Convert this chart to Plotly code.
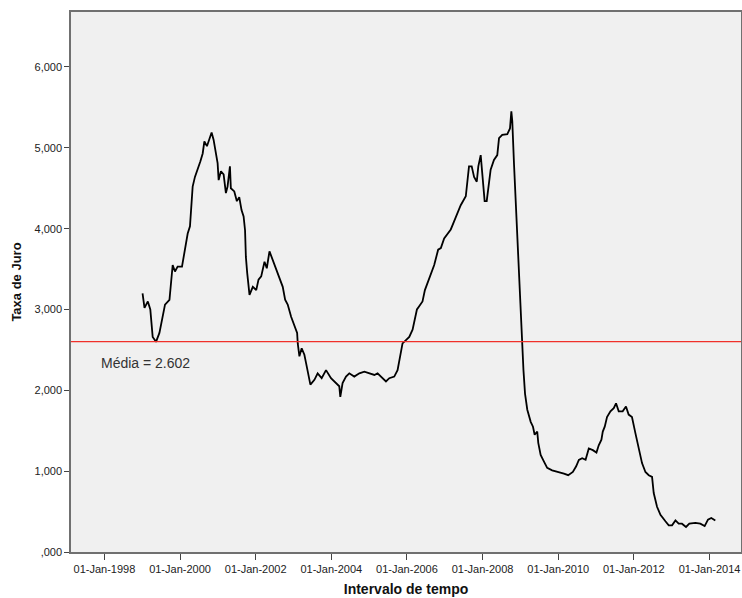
import plotly.graph_objects as go

dates = [
    "1999-01-04", "1999-01-23", "1999-02-24", "1999-03-20", "1999-04-12", "1999-05-14",
    "1999-06-16", "1999-07-08", "1999-08-09", "1999-09-21", "1999-10-06", "1999-10-22",
    "1999-11-13", "1999-12-09", "2000-01-20", "2000-02-12", "2000-03-15", "2000-04-06",
    "2000-04-22", "2000-05-02", "2000-05-24", "2000-06-19", "2000-07-15", "2000-08-07",
    "2000-08-23", "2000-09-17", "2000-10-10", "2000-11-01", "2000-11-20", "2000-12-12",
    "2000-12-29", "2001-01-08", "2001-01-30", "2001-02-25", "2001-03-19", "2001-04-04",
    "2001-04-27", "2001-05-06", "2001-06-08", "2001-07-03", "2001-07-26", "2001-08-17",
    "2001-09-06", "2001-09-20", "2001-09-28", "2001-10-11", "2001-11-02", "2001-12-04",
    "2002-01-06", "2002-01-28", "2002-02-23", "2002-03-27", "2002-04-18", "2002-05-14",
    "2002-06-15", "2002-07-17", "2002-08-18", "2002-09-19", "2002-10-12", "2002-11-06",
    "2002-12-09", "2003-01-10", "2003-02-05", "2003-02-11", "2003-02-27", "2003-03-21",
    "2003-04-16", "2003-05-02", "2003-05-25", "2003-06-13", "2003-07-22", "2003-08-22",
    "2003-09-30", "2003-11-11", "2003-12-29", "2004-02-16", "2004-03-18", "2004-03-28",
    "2004-04-19", "2004-05-22", "2004-06-23", "2004-08-10", "2004-09-28", "2004-11-15",
    "2005-01-02", "2005-02-20", "2005-03-23", "2005-04-25", "2005-06-12", "2005-07-14",
    "2005-08-31", "2005-10-02", "2005-10-25", "2005-11-19", "2005-12-22", "2006-01-23",
    "2006-02-24", "2006-03-12", "2006-04-07", "2006-04-29", "2006-05-31", "2006-06-23",
    "2006-07-18", "2006-08-20", "2006-09-21", "2006-10-29", "2006-11-24", "2006-12-26",
    "2007-01-27", "2007-02-28", "2007-04-01", "2007-05-03", "2007-06-04", "2007-07-23",
    "2007-08-07", "2007-08-23", "2007-09-18", "2007-10-11", "2007-11-06", "2007-11-21",
    "2007-12-14", "2007-12-29", "2008-01-21", "2008-02-10", "2008-02-25", "2008-03-19",
    "2008-04-20", "2008-05-22", "2008-06-08", "2008-07-09", "2008-08-27", "2008-09-22",
    "2008-10-05", "2008-10-14", "2008-10-31", "2008-12-02", "2008-12-28", "2009-01-16",
    "2009-01-30", "2009-02-14", "2009-03-08", "2009-04-10", "2009-05-02", "2009-05-18",
    "2009-06-12", "2009-06-22", "2009-07-15", "2009-08-15", "2009-09-16", "2009-11-03",
    "2010-01-07", "2010-02-25", "2010-04-07", "2010-05-22", "2010-06-23", "2010-07-19",
    "2010-08-20", "2010-09-22", "2010-10-23", "2010-12-01", "2011-01-05", "2011-01-27",
    "2011-02-22", "2011-03-07", "2011-03-26", "2011-04-17", "2011-05-20", "2011-06-21",
    "2011-07-13", "2011-08-08", "2011-09-15", "2011-10-17", "2011-11-12", "2011-12-14",
    "2012-01-16", "2012-02-17", "2012-03-20", "2012-04-22", "2012-05-24", "2012-06-25",
    "2012-07-11", "2012-08-12", "2012-09-14", "2012-11-01", "2012-12-03", "2013-01-04",
    "2013-02-06", "2013-03-09", "2013-04-10", "2013-05-19", "2013-06-20", "2013-08-17",
    "2013-10-04", "2013-11-15", "2013-12-17", "2014-01-18", "2014-02-26",
]

taxa = [
    3.20, 3.02, 3.10, 3.00, 2.66, 2.60,
    2.71, 2.87, 3.06, 3.12, 3.37, 3.55,
    3.47, 3.53, 3.53, 3.70, 3.94, 4.03,
    4.32, 4.52, 4.64, 4.73, 4.83, 4.93,
    5.08, 5.02, 5.10, 5.19, 5.10, 4.93,
    4.81, 4.60, 4.71, 4.67, 4.44, 4.52,
    4.77, 4.50, 4.46, 4.34, 4.39, 4.23,
    4.15, 3.98, 3.65, 3.45, 3.18, 3.28,
    3.24, 3.37, 3.41, 3.59, 3.51, 3.72,
    3.61, 3.51, 3.39, 3.28, 3.12, 3.06,
    2.91, 2.79, 2.71, 2.58, 2.42, 2.52,
    2.44, 2.34, 2.17, 2.07, 2.13, 2.21,
    2.15, 2.25, 2.15, 2.09, 2.05, 1.92,
    2.09, 2.17, 2.21, 2.17, 2.21, 2.23,
    2.21, 2.19, 2.21, 2.17, 2.11, 2.15,
    2.17, 2.25, 2.42, 2.58, 2.62, 2.66,
    2.75, 2.85, 3.00, 3.04, 3.10, 3.24,
    3.33, 3.45, 3.55, 3.74, 3.76, 3.88,
    3.94, 3.99, 4.09, 4.19, 4.29, 4.40,
    4.58, 4.77, 4.77, 4.64, 4.58, 4.77,
    4.91, 4.67, 4.34, 4.34, 4.50, 4.73,
    4.85, 4.91, 5.12, 5.16, 5.17, 5.24,
    5.45, 5.33, 4.79, 3.88, 3.10, 2.60,
    2.25, 1.96, 1.76, 1.61, 1.55, 1.45,
    1.49, 1.35, 1.20, 1.12, 1.04, 1.01,
    0.99, 0.97, 0.95, 0.99, 1.06, 1.14,
    1.16, 1.14, 1.28, 1.26, 1.23, 1.32,
    1.39, 1.49, 1.55, 1.67, 1.74, 1.78,
    1.84, 1.74, 1.74, 1.80, 1.70, 1.67,
    1.47, 1.30, 1.10, 0.99, 0.95, 0.93,
    0.73, 0.56, 0.46, 0.38, 0.33, 0.33,
    0.39, 0.35, 0.35, 0.31, 0.35, 0.36,
    0.35, 0.32, 0.40, 0.42, 0.39,
]

media = 2.602
media_label = "Média = 2.602"

x_tick_vals = ["1998-01-01", "2000-01-01", "2002-01-01", "2004-01-01", "2006-01-01",
               "2008-01-01", "2010-01-01", "2012-01-01", "2014-01-01"]
x_tick_text = ["01-Jan-1998", "01-Jan-2000", "01-Jan-2002", "01-Jan-2004", "01-Jan-2006",
               "01-Jan-2008", "01-Jan-2010", "01-Jan-2012", "01-Jan-2014"]
y_tick_vals = [0, 1, 2, 3, 4, 5, 6]
y_tick_text = [",000", "1,000", "2,000", "3,000", "4,000", "5,000", "6,000"]

x_range = ["1997-02-12", "2014-11-01"]
y_range = [0, 6.68]

fig = go.Figure()
fig.add_trace(go.Scatter(
    x=dates, y=taxa, mode="lines",
    line=dict(color="black", width=1.8),
    showlegend=False, hoverinfo="x+y",
))
fig.add_trace(go.Scatter(
    x=x_range, y=[media, media], mode="lines",
    line=dict(color="#f0302a", width=1.4),
    showlegend=False, hoverinfo="skip",
))

fig.add_annotation(
    x=0.042, xref="paper", y=2.34, yref="y",
    text=media_label, showarrow=False, xanchor="left", yanchor="middle",
    font=dict(family="Liberation Sans, Arial, sans-serif", size=14, color="#333333"),
)

axis_font = dict(family="Liberation Sans, Arial, sans-serif", size=11, color="#222222")

fig.update_layout(
    width=742, height=598,
    margin=dict(l=71, r=1, t=12, b=46),
    paper_bgcolor="white",
    plot_bgcolor="#f0f0f0",
    font=axis_font,
    xaxis=dict(
        type="date", range=x_range,
        tickmode="array", tickvals=x_tick_vals, ticktext=x_tick_text,
        ticks="outside", ticklen=6, tickwidth=1.3, tickcolor="#444444",
        ticklabeloverflow="allow",
        showgrid=False, zeroline=False,
        showline=True, linecolor="#707070", linewidth=1.5, mirror=True,
        tickfont=axis_font, automargin=False,
        title=dict(text="<b>Intervalo de tempo</b>",
                   font=dict(family="Liberation Sans, Arial, sans-serif", size=14, color="#111111"),
                   standoff=10),
    ),
    yaxis=dict(
        range=y_range,
        tickmode="array", tickvals=y_tick_vals, ticktext=y_tick_text,
        ticks="outside", ticklen=5, tickwidth=1.3, tickcolor="#444444",
        showgrid=False, zeroline=False,
        showline=True, linecolor="#707070", linewidth=1.5, mirror=True,
        tickfont=axis_font, automargin=False,
        title=dict(text="<b>Taxa de Juro</b>",
                   font=dict(family="Liberation Sans, Arial, sans-serif", size=13, color="#111111"),
                   standoff=10),
    ),
)

fig.write_html(
    "out.html",
    config={"displayModeBar": False},
    post_script="document.body.style.margin='0';document.documentElement.style.overflow='hidden';document.body.style.overflow='hidden';",
)
